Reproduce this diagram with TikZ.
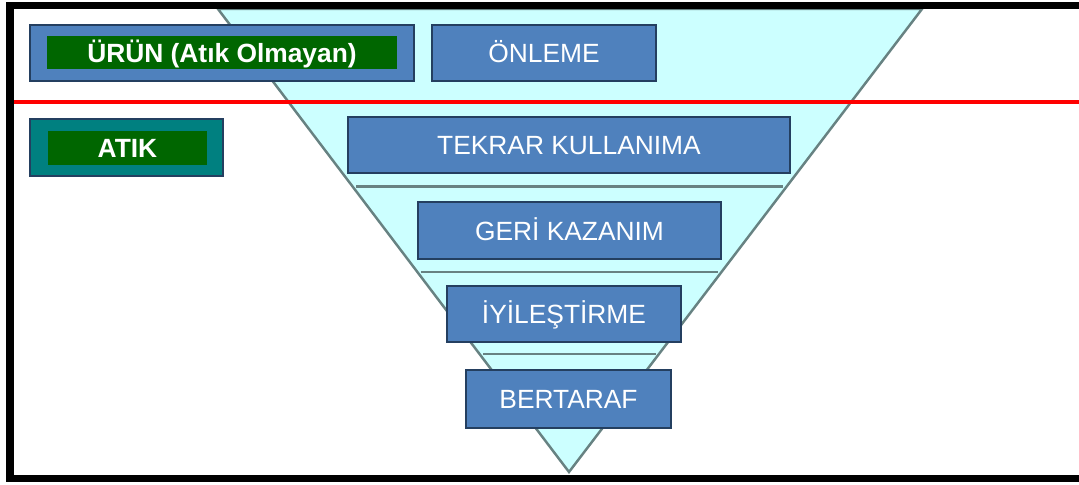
\documentclass[tikz,border=0pt]{standalone}
\usepackage{fontspec}
\setmainfont{Liberation Sans}
\usepackage{tikz}
\usetikzlibrary{calc}
\definecolor{boxblue}{HTML}{4F81BD}
\definecolor{boxedge}{HTML}{243F60}
\definecolor{labelgreen}{HTML}{006600}
\definecolor{atikteal}{HTML}{008080}
\definecolor{funnelfill}{HTML}{CCFFFF}
\definecolor{funneledge}{HTML}{678282}

\begin{document}
\begin{tikzpicture}[x=0.02cm, y=-0.02cm,
    stage/.style={draw=boxedge, fill=boxblue, line width=1.1pt, text=white, inner sep=0pt,
        text height=11pt, text depth=0pt, font=\fontsize{15}{18}\selectfont, minimum height=1.12cm},
    tag/.style={fill=labelgreen, text=white, inner sep=0pt,
        text height=11pt, text depth=0pt, font=\fontsize{15}{18}\selectfont\bfseries}]
            \useasboundingbox (0,0) rectangle (1079,484);
            
            \coordinate (funnelL) at (218,9);
            \coordinate (funnelR) at (922,9);
            \coordinate (apex) at (569,472);
            \draw[fill=funnelfill, draw=funneledge, line width=1.4pt] (funnelL)--(funnelR)--(apex)--cycle;
            
            \foreach \t in {0.384, 0.568, 0.745}
                \draw[funneledge, line width=1.5pt, shorten <=2pt, shorten >=2pt] ($(funnelL)!\t!(apex)$)--($(funnelR)!\t!(apex)$);
            
            \coordinate (redL) at (14,102);
            \coordinate (redR) at (1079,102);
            \draw[red, line width=2.2pt] (redL)--(redR);
            
            \node[stage, minimum width=7.68cm] (urun) at (222,53) {};
            \node[tag, minimum width=7.0cm, minimum height=0.66cm] (urunlabel) at (222,52.5) {ÜRÜN (Atık Olmayan)};
            \node[stage, minimum width=4.48cm] (onleme) at (544,53) {ÖNLEME};
            
            \node[stage, fill=atikteal, minimum width=3.86cm, minimum height=1.14cm] (atik) at (126.5,147.5) {};
            \node[tag, minimum width=3.18cm, minimum height=0.68cm] (atiklabel) at (127.5,148) {ATIK};
            
            \node[stage, minimum width=8.84cm] (tekrar) at (569,145) {TEKRAR KULLANIMA};
            \node[stage, minimum width=6.06cm, minimum height=1.14cm] (geri) at (569.5,230.5) {GERİ KAZANIM};
            \node[stage, minimum width=4.68cm] (iyilestirme) at (564,314) {İYİLEŞTİRME};
            \node[stage, minimum width=4.1cm, minimum height=1.16cm] (bertaraf) at (568.5,399) {BERTARAF};
            
            \draw[line width=4pt] (1079,5.5)--(10,5.5)--(10,478.5)--(1079,478.5);
\end{tikzpicture}
\end{document}
